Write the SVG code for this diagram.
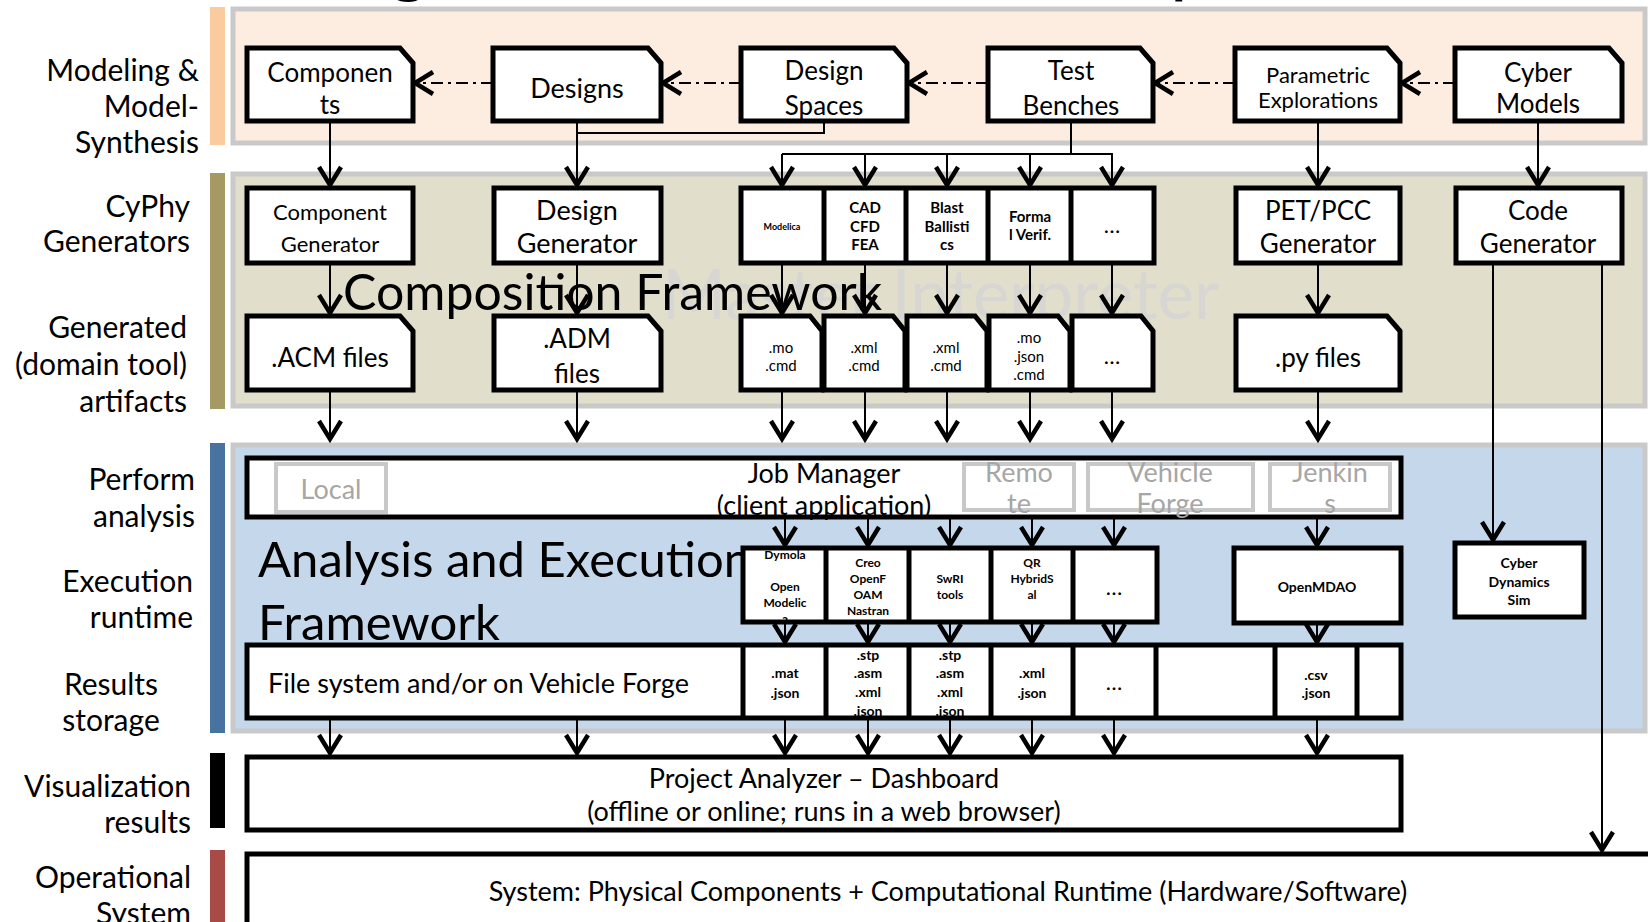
<svg xmlns="http://www.w3.org/2000/svg" width="1648" height="922" viewBox="0 0 1648 922">
<defs>
<style>
text{font-family:Lato,"Open Sans","Liberation Sans",sans-serif;fill:#000}
.lbl{font-size:30px;text-anchor:end}
.box{fill:#fff;stroke:#000;stroke-width:5;stroke-linejoin:miter}
.brd{fill:none;stroke:#000;stroke-width:5}
.div{stroke:#000;stroke-width:5}
.t26{font-size:26px;text-anchor:middle}
.t27{font-size:27px;text-anchor:middle}
.t22{font-size:22px;text-anchor:middle}
.c15{font-size:15px;text-anchor:middle}
.b15{font-size:15px;font-weight:bold;text-anchor:middle}
.b12{font-size:12px;font-weight:bold;text-anchor:middle}
.b14{font-size:14px;font-weight:bold;text-anchor:middle}
.r14{font-size:14px;font-weight:bold;text-anchor:middle}
.dots{font-size:22px;text-anchor:middle}
.gbox{fill:#fff;stroke:#c8c8c8;stroke-width:4}
.gt{font-size:27px;fill:#a6a6a6;text-anchor:middle}
.band{stroke:#c9c9c9;stroke-width:5}
.ln{fill:none;stroke:#000;stroke-width:2}
.arr{fill:none;stroke:#000;stroke-width:2;marker-end:url(#ah)}
.dd{fill:none;stroke:#000;stroke-width:2;stroke-dasharray:12 5 3 5;marker-end:url(#ah)}
</style>
<marker id="ah" markerUnits="userSpaceOnUse" viewBox="-24 -14 28 28" markerWidth="28" markerHeight="28" refX="0" refY="0" orient="auto">
<path d="M-19,-11 L-1,0 L-19,11" fill="none" stroke="#000" stroke-width="4.5" stroke-dasharray="none"/>
</marker>
</defs>
<rect width="1648" height="922" fill="#fff"/>

<!-- title fragments clipped at top -->
<text x="389" y="-12" style="font-size:76px">g</text>
<text x="1170" y="-12" style="font-size:76px">p</text>

<!-- left category bars -->
<g id="bars">
<rect x="210" y="7" width="15" height="138" fill="#fbcba0"/>
<rect x="210" y="173" width="15" height="236" fill="#a69a64"/>
<rect x="210" y="443" width="15" height="290" fill="#4872a0"/>
<rect x="210" y="753" width="15" height="75" fill="#000"/>
<rect x="210" y="850" width="15" height="72" fill="#a84b47"/>
</g>

<!-- left labels -->
<g id="labels">
<text class="lbl" x="199" y="81">Modeling &amp;</text>
<text class="lbl" x="199" y="117">Model-</text>
<text class="lbl" x="199" y="153">Synthesis</text>
<text class="lbl" x="190" y="217">CyPhy</text>
<text class="lbl" x="190" y="252">Generators</text>
<text class="lbl" x="187" y="338">Generated</text>
<text class="lbl" x="187" y="375">(domain tool)</text>
<text class="lbl" x="187" y="412">artifacts</text>
<text class="lbl" x="195" y="490">Perform</text>
<text class="lbl" x="195" y="527">analysis</text>
<text class="lbl" x="193" y="592">Execution</text>
<text class="lbl" x="193" y="628">runtime</text>
<text class="lbl" x="111" y="695" style="text-anchor:middle">Results</text>
<text class="lbl" x="111" y="731" style="text-anchor:middle">storage</text>
<text class="lbl" x="191" y="797">Visualization</text>
<text class="lbl" x="191" y="833">results</text>
<text class="lbl" x="191" y="888">Operational</text>
<text class="lbl" x="191" y="924">System</text>
</g>

<!-- bands -->
<g id="band-modeling"><rect class="band" x="233" y="9" width="1412" height="134" fill="#fdede1"/></g>
<g id="band-composition">
<rect class="band" x="233" y="174" width="1412" height="232" fill="#e1decb"/>
<text x="662" y="319" style="font-size:69px;fill:#d7d6d3">Master Interpreter</text>
</g>
<g id="band-analysis"><rect class="band" x="233" y="445" width="1412" height="286" fill="#c5d8eb"/></g>

<!-- connectors -->
<g id="connectors">
<path class="dd" d="M493,83 H414"/>
<path class="dd" d="M741,83 H662"/>
<path class="dd" d="M988,83 H908"/>
<path class="dd" d="M1235,83 H1154"/>
<path class="dd" d="M1455,83 H1401"/>
<path class="arr" d="M330,121 V186"/>
<path class="arr" d="M577,121 V186"/>
<path class="ln" d="M824,121 V133 H577"/>
<path class="ln" d="M1071,121 V154 M782,154 H1113"/>
<path class="arr" d="M782,154 V186"/>
<path class="arr" d="M865,154 V186"/>
<path class="arr" d="M947,154 V186"/>
<path class="arr" d="M1030,154 V186"/>
<path class="arr" d="M1112,154 V186"/>
<path class="arr" d="M1318,121 V186"/>
<path class="arr" d="M1538,121 V186"/>
<path class="arr" d="M330,263 V314"/>
<path class="arr" d="M577,263 V314"/>
<path class="arr" d="M782,263 V314"/>
<path class="arr" d="M865,263 V314"/>
<path class="arr" d="M947,263 V314"/>
<path class="arr" d="M1030,263 V314"/>
<path class="arr" d="M1112,263 V314"/>
<path class="arr" d="M1318,263 V314"/>
<path class="arr" d="M330,390 V440"/>
<path class="arr" d="M577,390 V440"/>
<path class="arr" d="M782,390 V440"/>
<path class="arr" d="M865,390 V440"/>
<path class="arr" d="M947,390 V440"/>
<path class="arr" d="M1030,390 V440"/>
<path class="arr" d="M1112,390 V440"/>
<path class="arr" d="M1318,390 V440"/>
<path class="arr" d="M785,517 V546"/>
<path class="arr" d="M868,517 V546"/>
<path class="arr" d="M950,517 V546"/>
<path class="arr" d="M1032,517 V546"/>
<path class="arr" d="M1114,517 V546"/>
<path class="arr" d="M1317,517 V546"/>
<path class="arr" d="M785,622 V643"/>
<path class="arr" d="M868,622 V643"/>
<path class="arr" d="M950,622 V643"/>
<path class="arr" d="M1032,622 V643"/>
<path class="arr" d="M1114,622 V643"/>
<path class="arr" d="M1317,622 V643"/>
<path class="arr" d="M330,718 V754"/>
<path class="arr" d="M577,718 V754"/>
<path class="arr" d="M785,718 V754"/>
<path class="arr" d="M868,718 V754"/>
<path class="arr" d="M950,718 V754"/>
<path class="arr" d="M1032,718 V754"/>
<path class="arr" d="M1114,718 V754"/>
<path class="arr" d="M1317,718 V754"/>
<path class="arr" d="M1493,263 V541"/>
<path class="arr" d="M1602,263 V851"/>
</g>

<!-- top row -->
<g id="n-components"><path class="box" d="M247,48 H400 L413,63 V121 H247 Z"/><text class="t26" x="330" y="82">Componen</text><text class="t26" x="330" y="114">ts</text></g>
<g id="n-designs"><path class="box" d="M493,48 H648 L661,63 V121 H493 Z"/><text class="t27" x="577" y="98">Designs</text></g>
<g id="n-designspaces"><path class="box" d="M741,48 H894 L907,63 V121 H741 Z"/><text class="t26" x="824" y="80">Design</text><text class="t26" x="824" y="115">Spaces</text></g>
<g id="n-testbenches"><path class="box" d="M988,48 H1140 L1153,63 V121 H988 Z"/><text class="t26" x="1071" y="80">Test</text><text class="t26" x="1071" y="115">Benches</text></g>
<g id="n-parametric"><path class="box" d="M1235,48 H1387 L1400,63 V121 H1235 Z"/><text class="t22" x="1318" y="83">Parametric</text><text class="t22" x="1318" y="108">Explorations</text></g>
<g id="n-cyber"><path class="box" d="M1455,48 H1609 L1622,63 V121 H1455 Z"/><text class="t26" x="1538" y="82">Cyber</text><text class="t26" x="1538" y="113">Models</text></g>

<!-- generators -->
<g id="n-compgen"><rect class="box" x="247" y="188" width="166" height="75"/><text class="t22" x="330" y="220">Component</text><text class="t22" x="330" y="252">Generator</text></g>
<g id="n-designgen"><rect class="box" x="494" y="188" width="167" height="75"/><text class="t27" x="577" y="220">Design</text><text class="t27" x="577" y="253">Generator</text></g>
<g id="n-tbgen">
<rect class="box" x="741" y="188" width="413" height="75"/>
<line class="div" x1="824" y1="188" x2="824" y2="263"/>
<line class="div" x1="906" y1="188" x2="906" y2="263"/>
<line class="div" x1="988" y1="188" x2="988" y2="263"/>
<line class="div" x1="1071" y1="188" x2="1071" y2="263"/>
<text x="782" y="230" style="font-size:9px;font-weight:bold;text-anchor:middle">Modelica</text>
<text class="b15" x="865" y="213">CAD</text><text class="b15" x="865" y="232">CFD</text><text class="b15" x="865" y="250">FEA</text>
<text class="b15" x="947" y="213">Blast</text><text class="b15" x="947" y="232">Ballisti</text><text class="b15" x="947" y="250">cs</text>
<text class="b15" x="1030" y="222">Forma</text><text class="b15" x="1030" y="240">l Verif.</text>
<text class="dots" x="1112" y="233">…</text>
</g>
<g id="n-petgen"><rect class="box" x="1236" y="188" width="164" height="75"/><text class="t26" x="1318" y="220">PET/PCC</text><text class="t26" x="1318" y="253">Generator</text></g>
<g id="n-codegen"><rect class="box" x="1456" y="188" width="166" height="75"/><text class="t26" x="1538" y="220">Code</text><text class="t26" x="1538" y="253">Generator</text></g>

<!-- generated artifacts -->
<g id="n-acm"><path class="box" d="M247,316 H400 L413,331 V390 H247 Z"/><text class="t26" x="330" y="367">.ACM files</text></g>
<g id="n-adm"><path class="box" d="M494,316 H648 L661,331 V390 H494 Z"/><text class="t26" x="577" y="348">.ADM</text><text class="t26" x="577" y="383">files</text></g>
<g id="n-artifacts">
<path class="box" d="M741,316 H810 L822,331 V390 H741 Z"/>
<path class="box" d="M824,316 H893 L905,331 V390 H824 Z"/>
<path class="box" d="M907,316 H975 L987,331 V390 H907 Z"/>
<path class="box" d="M989,316 H1058 L1070,331 V390 H989 Z"/>
<path class="box" d="M1072,316 H1141 L1153,331 V390 H1072 Z"/>
<text class="c15" x="781" y="353">.mo</text><text class="c15" x="781" y="371">.cmd</text>
<text class="c15" x="864" y="353">.xml</text><text class="c15" x="864" y="371">.cmd</text>
<text class="c15" x="946" y="353">.xml</text><text class="c15" x="946" y="371">.cmd</text>
<text class="c15" x="1029" y="343">.mo</text><text class="c15" x="1029" y="362">.json</text><text class="c15" x="1029" y="380">.cmd</text>
<text class="dots" x="1112" y="364">…</text>
</g>
<g id="n-py"><path class="box" d="M1236,316 H1387 L1400,331 V390 H1236 Z"/><text class="t26" x="1318" y="367">.py files</text></g>

<text x="343" y="310" style="font-size:50px">Composition Framework</text>

<!-- job manager -->
<g id="n-jobmanager">
<rect class="box" x="247" y="458" width="1154" height="59"/>
<rect class="gbox" x="276" y="464" width="110" height="48"/><text class="gt" x="331" y="499">Local</text>
<rect class="gbox" x="964" y="464" width="110" height="46"/><text class="gt" x="1019" y="482">Remo</text><text class="gt" x="1019" y="513">te</text>
<rect class="gbox" x="1088" y="464" width="165" height="46"/><text class="gt" x="1170" y="482">Vehicle</text><text class="gt" x="1170" y="513">Forge</text>
<rect class="gbox" x="1270" y="464" width="120" height="46"/><text class="gt" x="1330" y="482">Jenkin</text><text class="gt" x="1330" y="513">s</text>
<text class="t27" x="824" y="483">Job Manager</text>
<text class="t27" x="824" y="515">(client application)</text>
</g>

<text x="258" y="577" style="font-size:49px">Analysis and Execution</text>
<text x="258" y="640" style="font-size:49px">Framework</text>

<!-- execution tools -->
<g id="n-tools">
<rect x="743" y="548" width="414" height="74" fill="#fff"/>
<text class="b12" x="785" y="559">Dymola</text><text class="b12" x="785" y="591">Open</text><text class="b12" x="785" y="607">Modelic</text><text class="b12" x="785" y="623">a</text>
<text class="b12" x="868" y="567">Creo</text><text class="b12" x="868" y="583">OpenF</text><text class="b12" x="868" y="599">OAM</text><text class="b12" x="868" y="615">Nastran</text>
<text class="b12" x="950" y="583">SwRI</text><text class="b12" x="950" y="599">tools</text>
<text class="b12" x="1032" y="567">QR</text><text class="b12" x="1032" y="583">HybridS</text><text class="b12" x="1032" y="599">al</text>
<text class="dots" x="1114" y="595">…</text>
<rect class="brd" x="743" y="548" width="414" height="74"/>
<line class="div" x1="826" y1="548" x2="826" y2="622"/>
<line class="div" x1="909" y1="548" x2="909" y2="622"/>
<line class="div" x1="991" y1="548" x2="991" y2="622"/>
<line class="div" x1="1073" y1="548" x2="1073" y2="622"/>
</g>
<g id="n-openmdao"><rect class="box" x="1234" y="548" width="167" height="75"/><text class="b14" x="1317" y="592">OpenMDAO</text></g>
<g id="n-cyberdyn"><rect class="box" x="1455" y="543" width="129" height="74"/><text class="b14" x="1519" y="568">Cyber</text><text class="b14" x="1519" y="587">Dynamics</text><text class="b14" x="1519" y="605">Sim</text></g>

<!-- results storage -->
<g id="n-results">
<rect x="247" y="645" width="1154" height="73" fill="#fff"/>
<text x="268" y="693" style="font-size:27px">File system and/or on Vehicle Forge</text>
<text class="r14" x="785" y="678">.mat</text><text class="r14" x="785" y="698">.json</text>
<text class="r14" x="868" y="660">.stp</text><text class="r14" x="868" y="678">.asm</text><text class="r14" x="868" y="697">.xml</text><text class="r14" x="868" y="716">.json</text>
<text class="r14" x="950" y="660">.stp</text><text class="r14" x="950" y="678">.asm</text><text class="r14" x="950" y="697">.xml</text><text class="r14" x="950" y="716">.json</text>
<text class="r14" x="1032" y="678">.xml</text><text class="r14" x="1032" y="698">.json</text>
<text class="dots" x="1114" y="690">…</text>
<text class="r14" x="1316" y="680">.csv</text><text class="r14" x="1316" y="698">.json</text>
<rect class="brd" x="247" y="645" width="1154" height="73"/>
<line class="div" x1="743" y1="645" x2="743" y2="718"/>
<line class="div" x1="826" y1="645" x2="826" y2="718"/>
<line class="div" x1="909" y1="645" x2="909" y2="718"/>
<line class="div" x1="991" y1="645" x2="991" y2="718"/>
<line class="div" x1="1073" y1="645" x2="1073" y2="718"/>
<line class="div" x1="1156" y1="645" x2="1156" y2="718"/>
<line class="div" x1="1275" y1="645" x2="1275" y2="718"/>
<line class="div" x1="1357" y1="645" x2="1357" y2="718"/>
</g>

<!-- project analyzer -->
<g id="n-analyzer"><rect class="box" x="247" y="757" width="1154" height="73"/><text class="t27" x="824" y="788">Project Analyzer – Dashboard</text><text class="t27" x="824" y="821">(offline or online; runs in a web browser)</text></g>

<!-- system -->
<g id="n-system"><rect class="box" x="247" y="854" width="1410" height="90"/><text class="t27" x="948" y="901">System: Physical Components + Computational Runtime (Hardware/Software)</text></g>
</svg>
